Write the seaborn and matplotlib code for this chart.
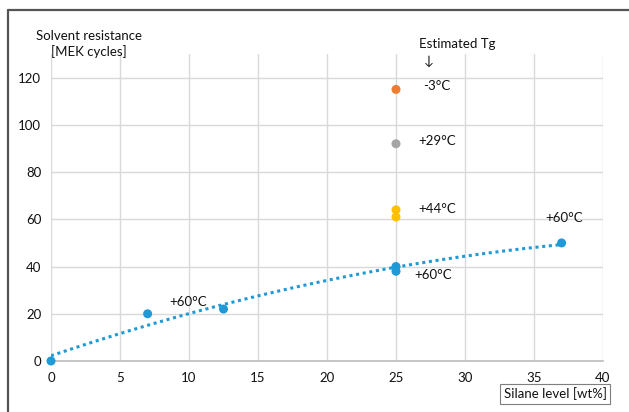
import numpy as np
import pandas as pd
import matplotlib
matplotlib.use("Agg")
import matplotlib.pyplot as plt
import seaborn as sns
from matplotlib.lines import Line2D

# silane series (Tg +60 °C), fitted with a trend line
silane_main = [0, 7, 12.5, 25, 25, 37]
mek_main = [0, 20, 22, 40, 38, 50]

# other formulations at 25 wt%
silane_other = [25, 25, 25, 25]
mek_other = [115, 92, 64, 61]
group_other = ["-3", "+29", "+44", "+44"]

tg_labels = ["-3°C", "+29°C", "+44°C", "+60°C", "+60°C", "+60°C"]
tg_label_x = [27.0, 26.6, 26.6, 35.8, 26.3, 8.6]
tg_label_y = [116.5, 93, 64.5, 60.5, 36.3, 25]

blue = "#1f9ad6"
palette = {"-3": "#ed7d31", "+29": "#a5a5a5", "+44": "#ffc000"}
fs = 9.5

sns.set_theme(style="whitegrid")
plt.rcParams['font.family'] = ['Lato', 'DejaVu Sans']

fig = plt.figure(figsize=(6.29, 4.12), dpi=100)
ax = fig.add_axes([51/629, 1 - 361/412, (603 - 51)/629, (361 - 54)/412])

df_main = pd.DataFrame({"silane": silane_main, "mek": mek_main})
df_other = pd.DataFrame({"silane": silane_other, "mek": mek_other, "tg": group_other})

# trend line (2nd order polynomial like the Excel trendline)
sns.regplot(data=df_main, x="silane", y="mek", order=2, ci=None, scatter=False,
            color=blue, line_kws={"ls": (0, (1, 1.2)), "lw": 2.2}, ax=ax)
sns.scatterplot(data=df_main, x="silane", y="mek", color=blue, s=42,
                edgecolor="none", ax=ax, zorder=3, clip_on=False)
sns.scatterplot(data=df_other, x="silane", y="mek", hue="tg", palette=palette,
                s=42, edgecolor="none", ax=ax, legend=False, zorder=3)

for t, x, y in zip(tg_labels, tg_label_x, tg_label_y):
    ax.text(x, y, t, fontsize=fs, va="center", ha="left", color="#111111")

ax.text(26.7, 134.3, "Estimated Tg", fontsize=fs, va="center", ha="left",
        color="#111111", clip_on=False)
ax.text(27.0, 127.2, "↓", fontsize=fs, va="center", ha="left",
        color="#111111", clip_on=False)

ax.set_xlim(0, 40)
ax.set_ylim(0, 130)
ax.set_xticks(range(0, 41, 5))
ax.set_yticks(range(0, 121, 20))
ax.set_xlabel("")
ax.set_ylabel("")
ax.grid(True, color="#d9d9d9", lw=1)
ax.tick_params(axis="both", length=0, labelsize=fs, colors="#111111")
ax.tick_params(axis="x", pad=8)
ax.tick_params(axis="y", pad=7)
for side in ["top", "right", "left"]:
    ax.spines[side].set_visible(False)
ax.spines["bottom"].set_color("#bfbfbf")
ax.set_facecolor("white")

fig.text(89/629, 1 - 44/412, "Solvent resistance\n[MEK cycles]", fontsize=fs,
         ha="center", va="center", multialignment="center", color="#111111",
         linespacing=1.3)
fig.text(555/629, 1 - 394/412, "Silane level [wt%]", fontsize=fs, ha="center",
         va="center", color="#111111",
         bbox=dict(boxstyle="square,pad=0.25", fc="white", ec="#7f7f7f", lw=0.8))

# outer frame of the original chart
fig.add_artist(Line2D([8/629, 1], [1 - 10/412, 1 - 10/412], transform=fig.transFigure,
                      color="#555555", lw=1.6))
fig.add_artist(Line2D([8/629, 8/629], [0, 1 - 10/412], transform=fig.transFigure,
                      color="#555555", lw=1.6))

fig.savefig("out.png", dpi=100)
